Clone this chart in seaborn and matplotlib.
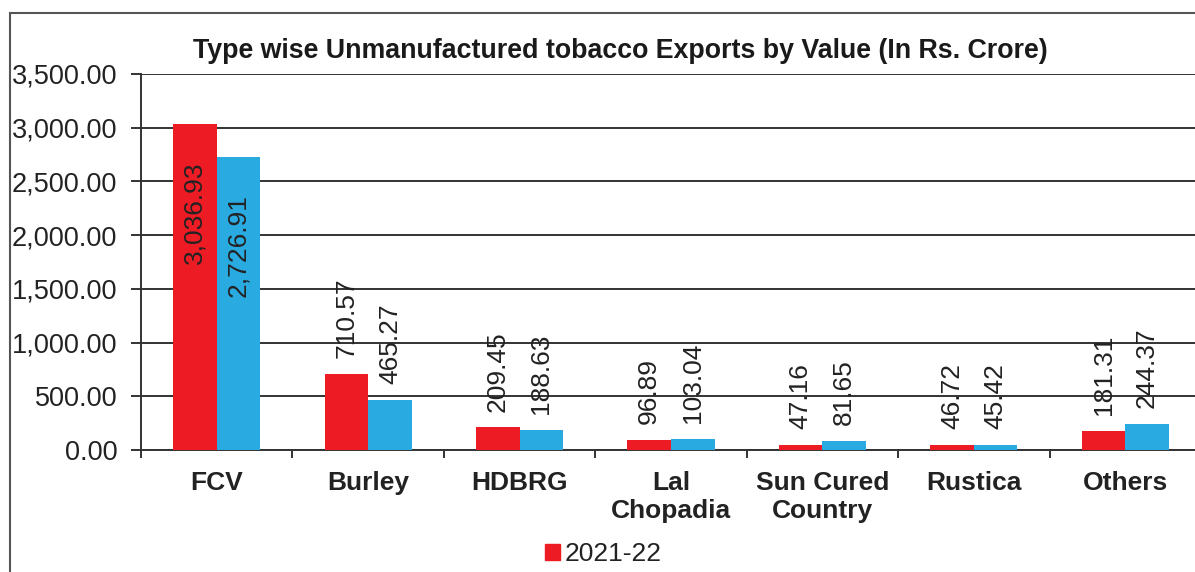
import numpy as np
import pandas as pd
import matplotlib
matplotlib.use("Agg")
import matplotlib.pyplot as plt
from matplotlib.patches import Rectangle
from matplotlib.ticker import FuncFormatter, FixedLocator
import seaborn as sns

sns.set_style("white")
plt.rcParams['font.family'] = ['Liberation Sans', 'DejaVu Sans']

# data
types = ['FCV', 'Burley', 'HDBRG', 'Lal\nChopadia', 'Sun Cured\nCountry', 'Rustica', 'Others']
years = ['2021-22', '2022-23']
val_2122 = [3036.93, 710.57, 209.45, 96.89, 47.16, 46.72, 181.31]
val_2223 = [2726.91, 465.27, 188.63, 103.04, 81.65, 45.42, 244.37]
colors = ['#ED1C24', '#29ABE2']

df = pd.DataFrame({
    'Type': types * 2,
    'Year': [years[0]] * len(types) + [years[1]] * len(types),
    'Value': val_2122 + val_2223,
})

fig = plt.figure(figsize=(11.95, 5.72), dpi=100)
ax = fig.add_axes([141 / 1195, 1 - 450 / 572, 1060 / 1195, (450 - 74) / 572])

sns.barplot(data=df, x='Type', y='Value', hue='Year', palette=colors,
            width=0.575, gap=0, saturation=1, ax=ax, zorder=3, legend=False,
            linewidth=0, edgecolor='none')

ax.set_ylim(0, 3500)
ax.set_xlim(-0.5, len(types) - 0.5)
ax.set_xlabel('')
ax.set_ylabel('')
ax.yaxis.set_major_locator(FixedLocator(np.arange(0, 3501, 500)))
ax.yaxis.set_major_formatter(FuncFormatter(lambda v, p: f'{v:,.2f}'))
ax.grid(axis='y', color='#333333', lw=1.4, zorder=0)
for s in ['top', 'right']:
    ax.spines[s].set_visible(False)
for s in ['left', 'bottom']:
    ax.spines[s].set_color('#333333')
    ax.spines[s].set_linewidth(1.4)

ax.tick_params(axis='y', length=7, width=1.4, color='#333333', pad=10,
               labelsize=19.5, labelcolor='#222222', left=True)
ax.tick_params(axis='x', which='major', length=0, pad=15, labelsize=19)
for lab in ax.get_xticklabels():
    lab.set_fontweight('bold')
    lab.set_color('#222222')
    lab.set_linespacing(1.2)
ax.set_xticks(np.arange(-0.5, len(types)), minor=True)
ax.tick_params(axis='x', which='minor', length=6, width=1.4, color='#333333',
               direction='out', bottom=True)

# value labels, rotated
for ci, cont in enumerate(ax.containers):
    vals = [val_2122, val_2223][ci]
    labs = [f'{v:,.2f}' if v < 2500 else '' for v in vals]
    ax.bar_label(cont, labels=labs, rotation=90, padding=11.5, fontsize=19,
                 color='#222222')
    for bar, v in zip(cont, vals):
        if v >= 2500:
            ax.annotate(f'{v:,.2f}', xy=(bar.get_x() + bar.get_width() / 2, bar.get_height()),
                        xytext=(0, -27), textcoords='offset points', rotation=90,
                        ha='center', va='top', fontsize=19, color='#222222')

fig.text(620 / 1195, 1 - 58 / 572, 'Type wise Unmanufactured tobacco Exports by Value (In Rs. Crore)',
         ha='center', va='baseline', fontsize=19.3, fontweight='bold', color='#1a1a1a')

# only the first legend entry is visible in the cropped reference
handles = [Rectangle((0, 0), 1, 1, color=colors[0])]
fig.legend(handles, years[:1], loc='upper left', bbox_to_anchor=(545 / 1195, 1 - 542 / 572),
           frameon=False, fontsize=19, handlelength=0.55, handleheight=0.55,
           handletextpad=0.2, borderpad=0, borderaxespad=0, labelcolor='#222222')

fig.patches.append(Rectangle((10 / 1195, -0.1), 2, 1 - 13 / 572 + 0.1, transform=fig.transFigure,
                             fill=False, edgecolor='#555555', lw=1.5))

fig.savefig('out.png', dpi=100)
